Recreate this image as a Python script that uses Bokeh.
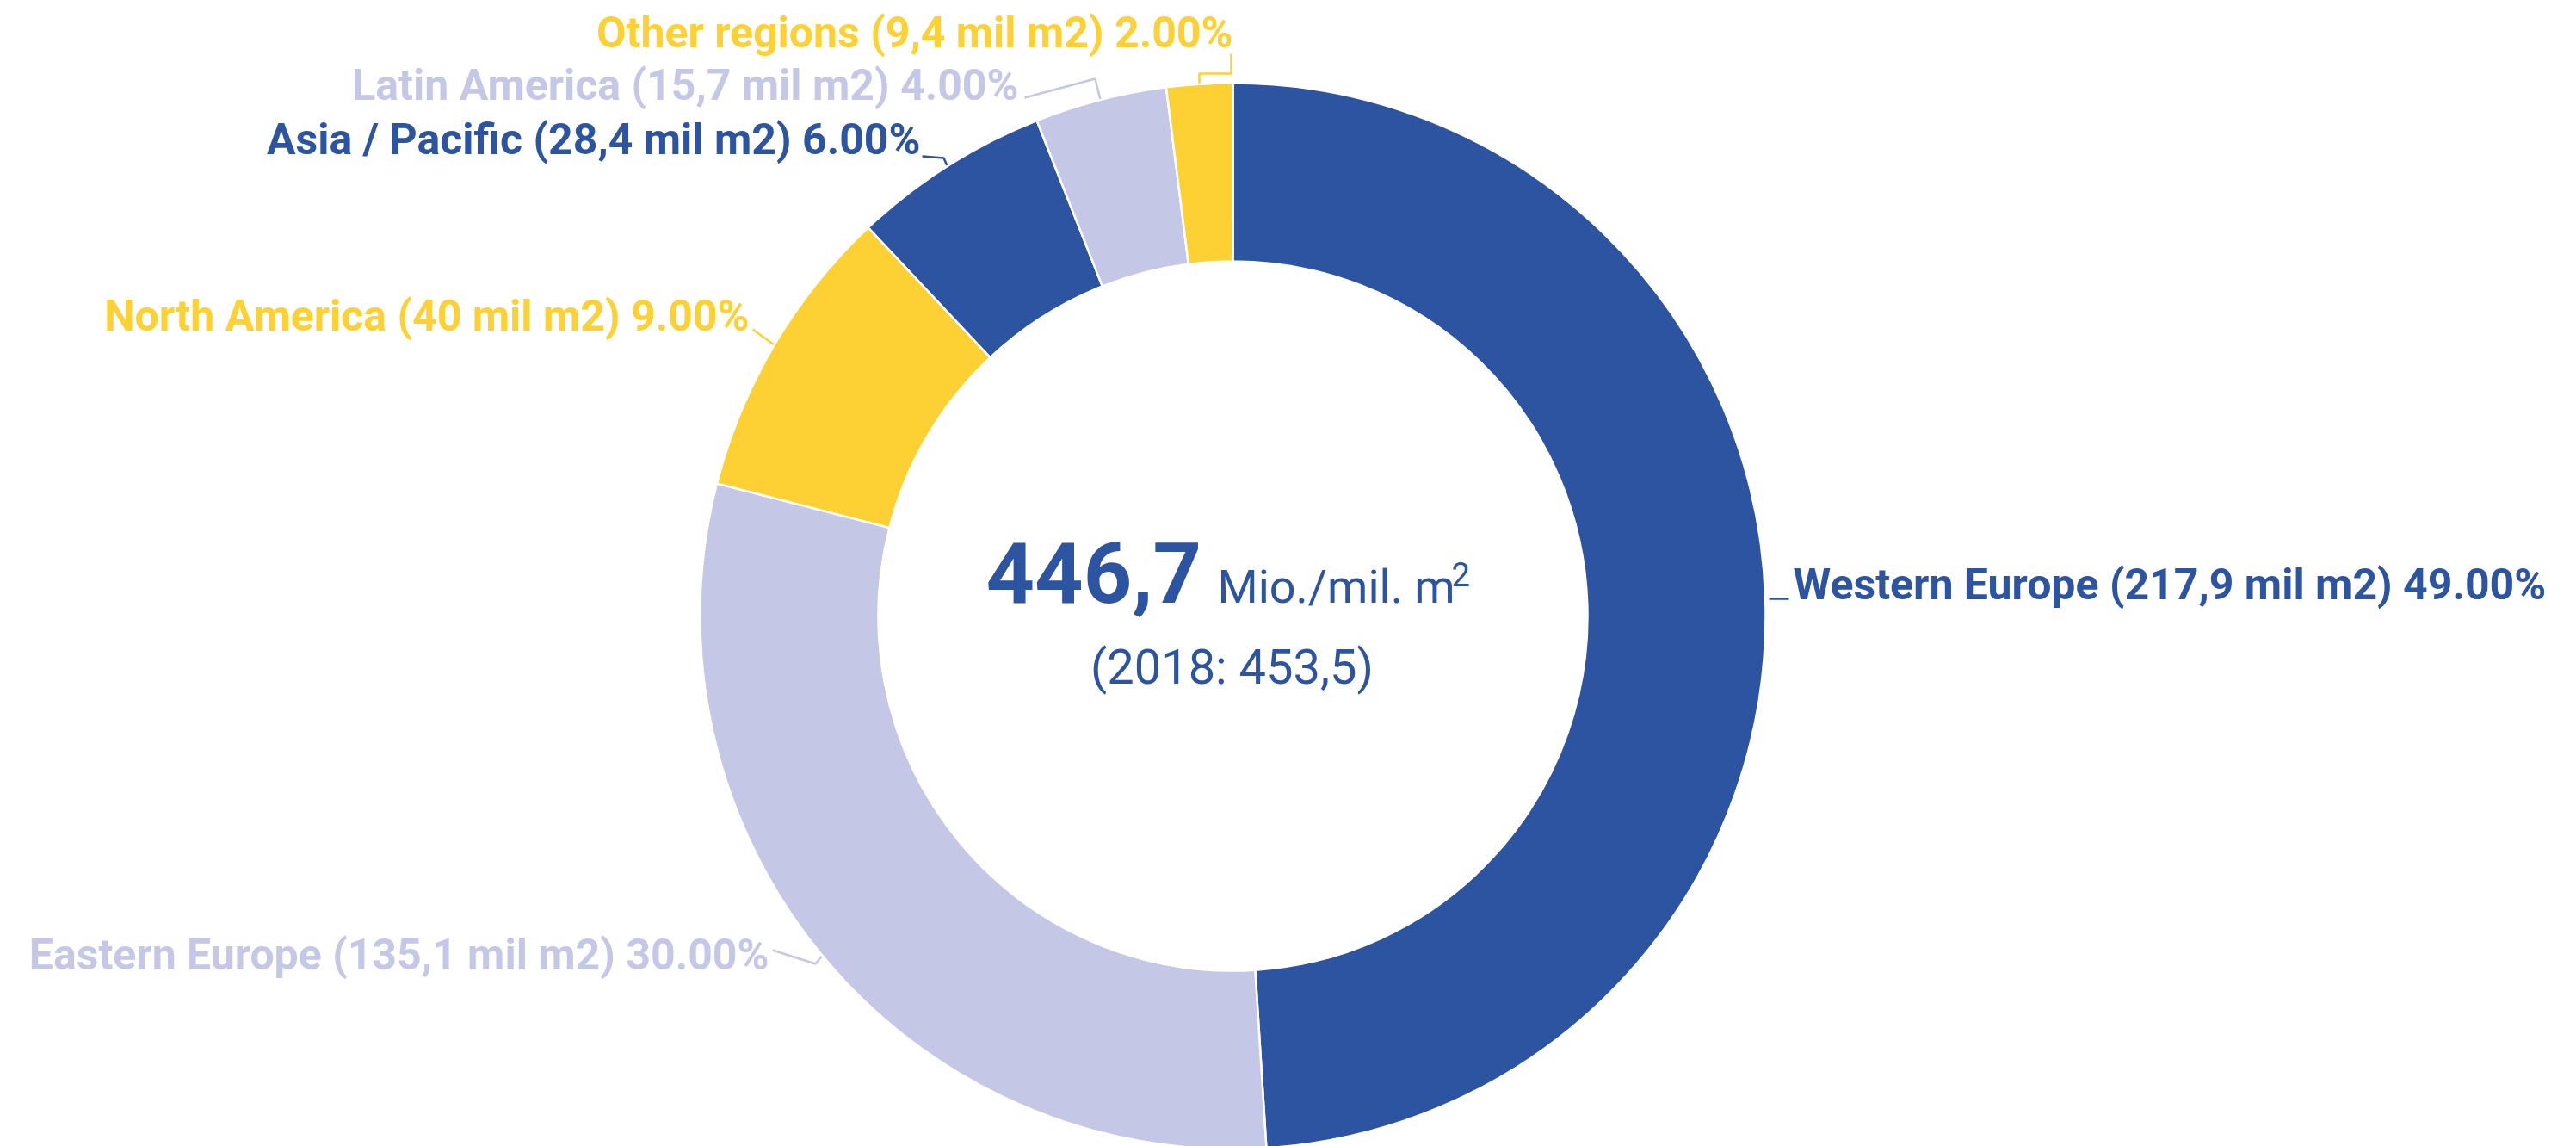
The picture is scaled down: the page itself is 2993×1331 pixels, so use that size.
import math
from bokeh.plotting import figure
from bokeh.models import Range1d, Label
from bokeh.embed import file_html
from bokeh.resources import INLINE

# ---- data ----
regions = ["Western Europe", "Eastern Europe", "North America", "Asia / Pacific", "Latin America", "Other regions"]
areas = ["217,9", "135,1", "40", "28,4", "15,7", "9,4"]
shares = [49.0, 30.0, 9.0, 6.0, 4.0, 2.0]
colors = ["#2C54A0", "#C4C7E6", "#FDD034", "#2C54A0", "#C4C7E6", "#FDD034"]
total_label = "446,7"
unit_label = "Mio./mil. m"
prev_label = "(2018: 453,5)"

W, H = 2977, 1331
p = figure(width=W, height=H, output_backend="svg", toolbar_location=None,
           x_range=Range1d(0, W), y_range=Range1d(0, H),
           x_axis_type=None, y_axis_type=None, min_border=0)
p.outline_line_color = None
p.grid.visible = False
p.background_fill_color = "white"

def X(px):
    return px

def Y(py):
    return H - py

cx, cy = X(1432), Y(715)
R_out, R_in = 619, 412

tot = sum(shares)
starts, ends, mids = [], [], []
c = 0.0
for s in shares:
    a0 = math.pi / 2 - 2 * math.pi * c / tot
    c += s
    a1 = math.pi / 2 - 2 * math.pi * c / tot
    starts.append(a0)
    ends.append(a1)
    mids.append((a0 + a1) / 2)

p.annular_wedge(x=[cx] * len(shares), y=[cy] * len(shares), inner_radius=R_in, outer_radius=R_out,
                start_angle=starts, end_angle=ends, direction="clock",
                fill_color=colors, line_color="white", line_width=2.5)

elbows = [
    [(2055, 695), (2078, 695)],
    [(897, 1103), (947, 1119)],
    [(874, 382)],
    [(1071, 181), (1096, 183)],
    [(1190, 113), (1272, 91)],
    [(1430, 62), (1430, 85), (1393, 85)],
]
xs, ys = [], []
for i, pts in enumerate(elbows):
    ex = cx + (R_out + 1) * math.cos(mids[i])
    ey = cy + (R_out + 1) * math.sin(mids[i])
    lx = [X(a) for a, b in pts] + [ex]
    ly = [Y(b) for a, b in pts] + [ey]
    if i == 5:
        lx[-1] = lx[-2]
    if i == 0:
        lx, ly = lx[:2], ly[:2]
    xs.append(lx)
    ys.append(ly)
p.multi_line(xs=xs, ys=ys, line_color=colors, line_width=2.5)

labels = [f"{r} ({a} mil m2) {s:.2f}%" for r, a, s in zip(regions, areas, shares)]
lab_pos = [(2083, 678, "left"), (893, 1108, "right"), (870, 366, "right"),
           (1069, 161, "right"), (1183, 98, "right"), (1432, 37, "right")]
for i, (lx, ly, al) in enumerate(lab_pos):
    p.add_layout(Label(x=X(lx), y=Y(ly), text=labels[i], text_color=colors[i],
                       text_font="Roboto", text_font_style="bold", text_font_size="50px",
                       text_align=al, text_baseline="alphabetic"))

blue = colors[0]
p.add_layout(Label(x=X(1414), y=Y(681), text=unit_label, text_color=blue, text_font="Roboto",
                   text_font_size="54px", text_align="left", text_baseline="alphabetic"))
p.add_layout(Label(x=X(1686), y=Y(666), text="2", text_color=blue, text_font="Roboto",
                   text_font_size="38px", text_align="left", text_baseline="alphabetic"))
p.add_layout(Label(x=X(1431), y=Y(774), text=prev_label, text_color=blue, text_font="Roboto",
                   text_font_size="56px", text_align="center", text_baseline="alphabetic"))
# note: font sizes with 3 digits (e.g. "100px") break rendering here, so use pt
p.add_layout(Label(x=X(1145), y=Y(664), text=total_label, text_color=blue, text_font="Roboto",
                   text_font_style="bold", text_font_size="74pt", text_align="left",
                   text_baseline="alphabetic"))

open("out.html", "w").write(file_html(p, INLINE))
